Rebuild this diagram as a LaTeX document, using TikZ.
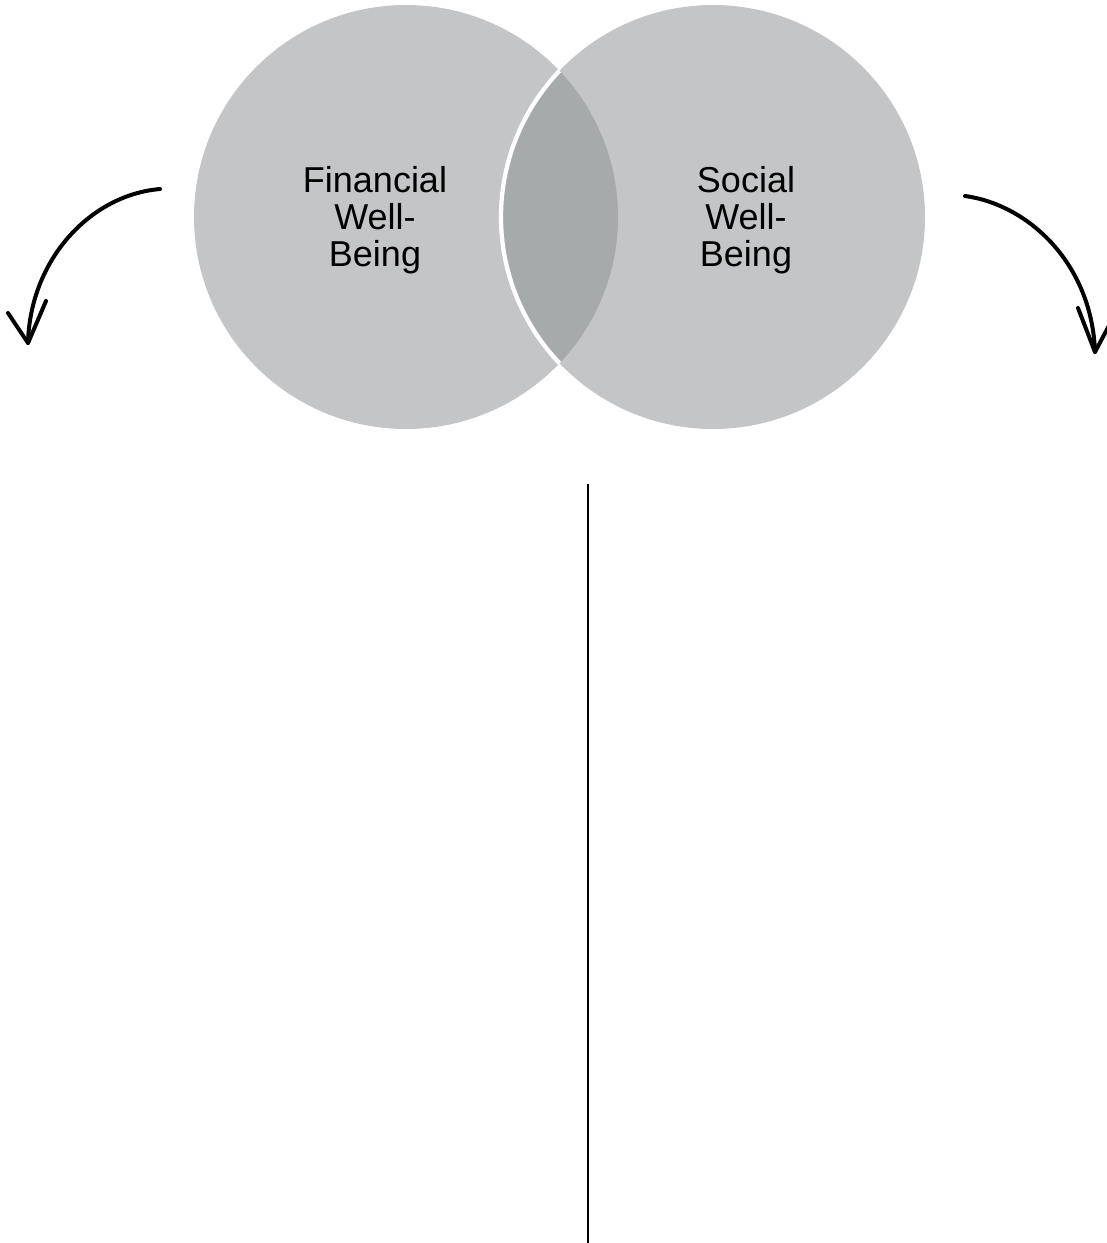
\documentclass[tikz,border=0pt]{standalone}
\usepackage{fontspec}
\setmainfont{Liberation Sans}
\definecolor{circgray}{HTML}{C4C5C7}
\definecolor{lensgray}{HTML}{A7AAAB}
\begin{document}
\begin{tikzpicture}[x=0.75pt,y=-0.75pt,
  circ/.style={circle,fill=circgray,minimum size=318pt,inner sep=0pt},
  lbl/.style={align=center,font=\fontsize{27pt}{27.75pt}\selectfont,text=black},
  curvearrow/.style={line width=3pt,line cap=round,line join=round,black},
  divider/.style={line width=1.7pt,black}]
\useasboundingbox (0,0) rectangle (1107,1243);
\clip (0,0) rectangle (1107,1243);
% circles
\node[circ] (L) at (406,217) {};
\node[circ] (R) at (713,217) {};
\begin{scope}
  \clip (406,217) circle[radius=212];
  \fill[lensgray] (713,217) circle[radius=212];
  \draw[white,line width=3.2pt] (713,217) circle[radius=212];
\end{scope}
% labels
\node[lbl] (tl) at (375,220) {Financial\\Well-\\Being};
\node[lbl] (tr) at (746,220) {Social\\Well-\\Being};
% left arrow
\coordinate (la) at (160,189);
\coordinate (lt) at (28,343);
\coordinate (la1) at (8,313);
\coordinate (la2) at (46,301);
\draw[curvearrow] (la) .. controls (90,195) and (30,260) .. (lt);
\draw[curvearrow] (la1) -- (lt) -- (la2);
% right arrow
\coordinate (ra) at (965,196);
\coordinate (rt) at (1095,352);
\coordinate (ra1) at (1078,308);
\coordinate (ra2) at (1113,318);
\draw[curvearrow] (ra) .. controls (1030,205) and (1092,265) .. (rt);
\draw[curvearrow] (ra1) -- (rt) -- (ra2);
% divider
\coordinate (d1) at (588,484);
\coordinate (d2) at (588,1243);
\draw[divider] (d1) -- (d2);
\end{tikzpicture}
\end{document}
